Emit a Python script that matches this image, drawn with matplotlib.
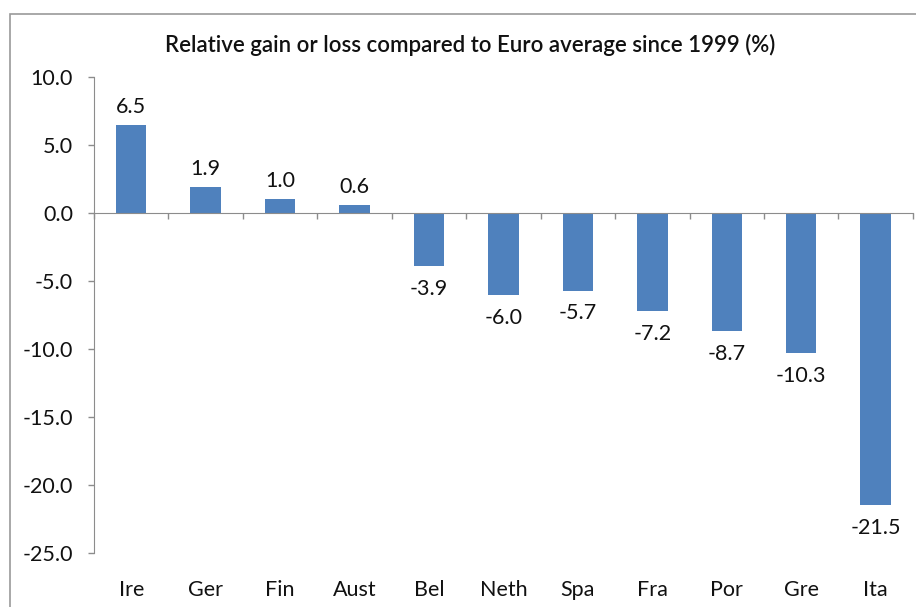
"""Relative gain or loss vs Euro average since 1999, Excel-style bar chart."""

import matplotlib

matplotlib.use("Agg")

import matplotlib.pyplot as plt  # noqa: E402
import matplotlib.transforms as mtransforms  # noqa: E402
from matplotlib.patches import Rectangle  # noqa: E402

countries = ["Ire", "Ger", "Fin", "Aust", "Bel", "Neth", "Spa", "Fra", "Por", "Gre", "Ita"]
change_pct = [6.5, 1.9, 1.0, 0.6, -3.9, -6.0, -5.7, -7.2, -8.7, -10.3, -21.5]
y_ticks = [10.0, 5.0, 0.0, -5.0, -10.0, -15.0, -20.0, -25.0]

_BAR = "#4F81BD"
_AXIS = "#8C8C8C"
_TEXT = "#111111"
_FONT = "Lato"

plt.rcParams["font.family"] = [_FONT, "DejaVu Sans"]

figure = plt.figure(figsize=(9.16, 6.07), dpi=100)
axis = figure.add_axes([0.1026, 0.089, 0.894, 0.784])

positions = list(range(len(countries)))
axis.bar(positions, change_pct, width=0.41, color=_BAR, zorder=2)

axis.set_xlim(-0.5, len(countries) - 0.5)
axis.set_ylim(-25, 10)
axis.set_yticks(y_ticks)
axis.set_yticklabels([f"{v:.1f}" for v in y_ticks], fontsize=15.5, color=_TEXT)
axis.tick_params(axis="y", length=4, width=1, color=_AXIS, pad=11)

# category axis sits on zero, labels stay at the bottom (Excel "low" labels)
for side in ("top", "right"):
    axis.spines[side].set_visible(False)
axis.spines["left"].set_color(_AXIS)
axis.spines["bottom"].set_position(("data", 0))
axis.spines["bottom"].set_color(_AXIS)
axis.set_xticks(positions)
axis.set_xticklabels([])
axis.tick_params(axis="x", which="major", length=0)
axis.set_xticks([p - 0.5 for p in positions] + [len(countries) - 0.5], minor=True)
axis.tick_params(axis="x", which="minor", length=4, width=1, color=_AXIS, direction="out")

label_tf = mtransforms.blended_transform_factory(axis.transData, figure.transFigure)
for pos, name in zip(positions, countries):
    axis.text(pos, 0.028, name, transform=label_tf, ha="center", va="center",
              fontsize=15.5, color=_TEXT)

for pos, value in zip(positions, change_pct):
    offset = 13 if value >= 0 else -16.5
    axis.annotate(f"{value:.1f}", (pos, value), xytext=(0, offset),
                  textcoords="offset points", ha="center", va="center",
                  fontsize=15.5, color=_TEXT)

figure.text(0.513, 0.926, "Relative gain or loss compared to Euro average since 1999 (%)",
            ha="center", va="center", fontsize=16, fontweight="semibold", color=_TEXT)

# chart area border (runs off the right and bottom edges as in the source)
figure.patches.append(Rectangle((10 / 916, -0.05), 1.0, 1 - 14 / 607 + 0.05,
                                transform=figure.transFigure, fill=False,
                                edgecolor="#9A9A9A", linewidth=1.2))

figure.savefig("out.png", dpi=100)
